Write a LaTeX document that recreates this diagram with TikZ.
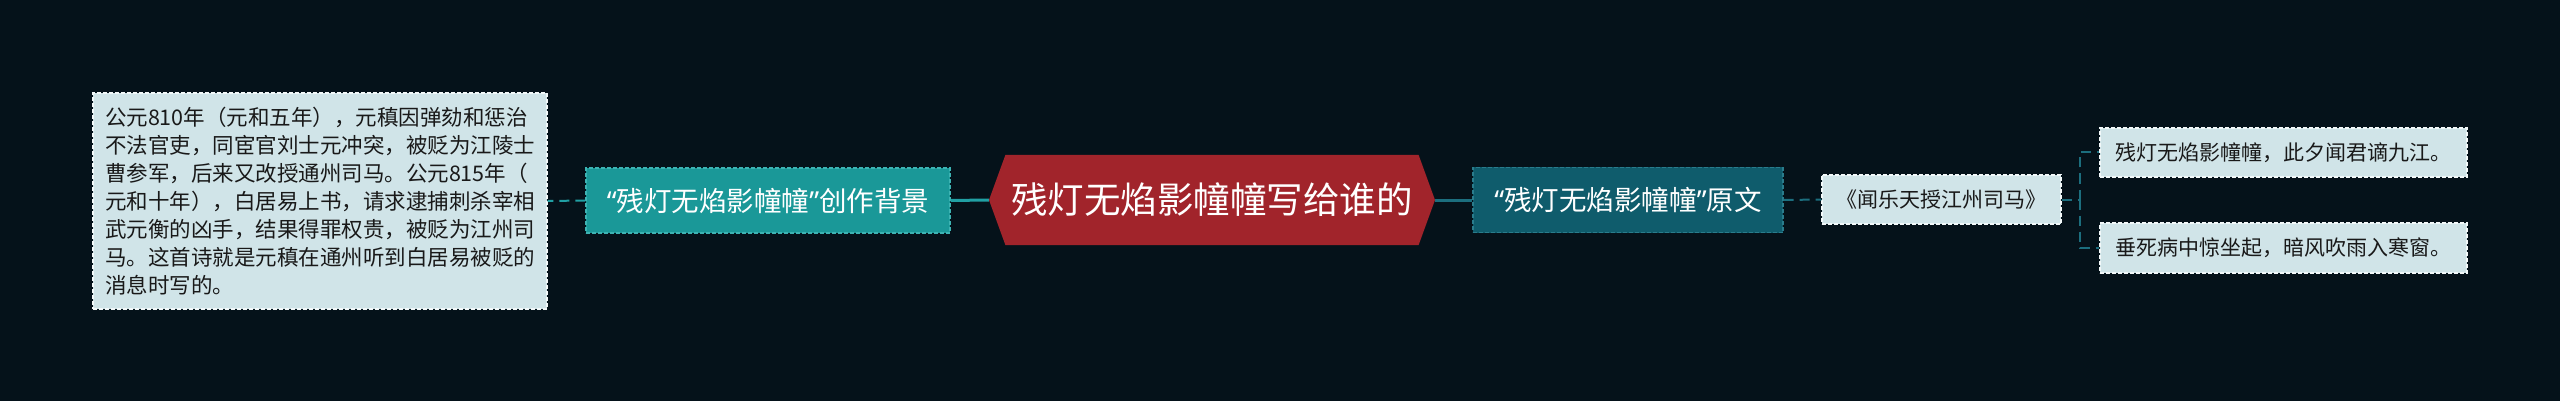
\documentclass[tikz,border=0pt]{standalone}
\usepackage{fontspec}
\newfontfamily\cjk{Noto Sans CJK SC}
\newfontfamily\quotefont{Noto Sans}
\newcommand\openq{{\quotefont “}}
\newcommand\closeq{{\quotefont ”}}
\usetikzlibrary{shapes.symbols}
\definecolor{bgdark}{HTML}{05121A}
\definecolor{titlered}{HTML}{A1242B}
\definecolor{tealfill}{HTML}{1A9898}
\definecolor{tealedge}{HTML}{3DB3B3}
\definecolor{deepfill}{HTML}{0F5C6C}
\definecolor{deepedge}{HTML}{2A7C8C}
\definecolor{leaffill}{HTML}{D0E4E8}
\definecolor{leafedge}{HTML}{F2F8F9}
\definecolor{linelight}{HTML}{21A0A4}
\definecolor{linedeep}{HTML}{1C6E7E}
\tikzset{
  box/.style={draw, dash pattern=on 4pt off 2pt, line width=1.2pt, inner sep=0pt, align=center},
  leafbox/.style={box, draw=leafedge, fill=leaffill, text=black!90},
  small/.style={font=\cjk\fontsize{21}{28}\selectfont},
  mid/.style={font=\cjk\fontsize{27.5}{32}\selectfont, text=white, minimum height=65pt},
  solidlink/.style={line width=3pt},
  dashlink/.style={line width=2pt, dash pattern=on 10pt off 6pt}
}

\begin{document}
\begin{tikzpicture}[x=1pt,y=-1pt]
  %%%%% START %%%%%

  \fill[bgdark] (0,0) rectangle (2560,401);
  \useasboundingbox (0,0) rectangle (2560,401);

  % root
  \node[signal, signal to=west and east, signal pointer angle=140, fill=titlered,
        minimum width=446pt, minimum height=90pt, inner sep=0pt, text=white,
        font=\cjk\fontsize{36.5}{40}\selectfont] (title) at (1212,200) {残灯无焰影幢幢写给谁的};

  % left branch
  \node[box, mid, draw=tealedge, fill=tealfill, minimum width=364pt] (bgnode) at (768,200.5)
        {\openq 残灯无焰影幢幢\closeq 创作背景};
  \node[leafbox, font=\cjk\fontsize{21.5}{28}\selectfont, align=left,
        minimum width=454pt, minimum height=216pt] (intro) at (320,201)
        {公元810年（元和五年），元稹因弹劾和惩治\\
         不法官吏，同宦官刘士元冲突，被贬为江陵士\\
         曹参军，后来又改授通州司马。公元815年（\\
         元和十年），白居易上书，请求逮捕刺杀宰相\\
         武元衡的凶手，结果得罪权贵，被贬为江州司\\
         马。这首诗就是元稹在通州听到白居易被贬的\\
         消息时写的。};

  % right branch
  \node[box, mid, draw=deepedge, fill=deepfill, minimum width=310pt] (orig) at (1628,200)
        {\openq 残灯无焰影幢幢\closeq 原文};
  \node[leafbox, font=\cjk\fontsize{21}{26}\selectfont,
        minimum width=239pt, minimum height=49pt] (poem) at (1941.5,199.5) {《闻乐天授江州司马》};
  \node[leafbox, small, minimum width=367pt, minimum height=49pt] (line1) at (2283.5,152.5)
        {残灯无焰影幢幢，此夕闻君谪九江。};
  \node[leafbox, small, minimum width=367pt, minimum height=50pt] (line2) at (2283.5,248)
        {垂死病中惊坐起，暗风吹雨入寒窗。};

  % links
  \coordinate (fork) at (2080,199.5);
  \draw[solidlink, linelight] (title.west) -- (bgnode.east);
  \draw[dashlink, linelight] (bgnode.west) -- (intro.east);
  \draw[solidlink, linedeep] (title.east) -- (orig.west);
  \draw[dashlink, linedeep] (orig.east) -- (poem.west);
  \draw[dashlink, linedeep] (poem.east) -- (fork);
  \draw[dashlink, linedeep] (fork) |- (line1.west);
  \draw[dashlink, linedeep] (fork) |- (line2.west);

  %%%%% END %%%%%
\end{tikzpicture}
\end{document}
